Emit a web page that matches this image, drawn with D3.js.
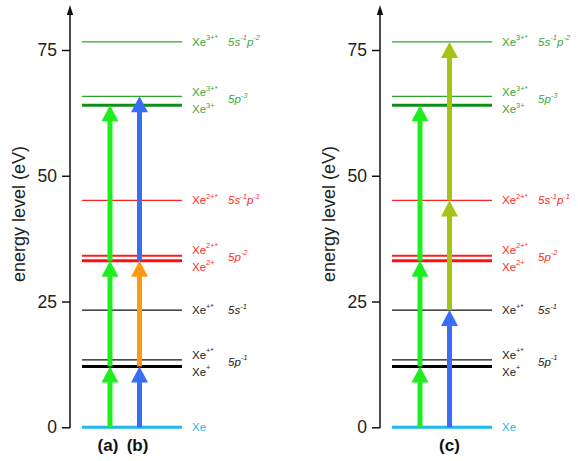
<!DOCTYPE html>
<html>
<head>
<meta charset="utf-8">
<script src="https://cdn.jsdelivr.net/npm/d3@7"></script>
<style>
  html, body { margin: 0; padding: 0; background: #fff; }
  svg { display: block; font-family: "Liberation Sans", Arial, sans-serif; }
</style>
</head>
<body>
<svg id="chart" width="578" height="461"></svg>
<script>
// Energy levels of Xe and its ions (eV)
const levelIds      = ["Xe", "Xe+", "Xe+*", "Xe+*s", "Xe2+", "Xe2+*", "Xe2+*s", "Xe3+", "Xe3+*", "Xe3+*s"];
const levelEnergies = [0, 12.1, 13.4, 23.3, 33.1, 34.1, 45.1, 64.0, 65.8, 76.6];
const levelGroups   = ["neutral", "ion1", "ion1", "ion1", "ion2", "ion2", "ion2", "ion3", "ion3", "ion3"];
const levelHeavy    = [true, true, false, false, true, false, false, true, false, false];

// Level labels: [base, superscript] and configuration [ [main, sup], ... ]
const labelName  = [["Xe", ""], ["Xe", "+"], ["Xe", "+*"], ["Xe", "+*"], ["Xe", "2+"], ["Xe", "2+*"], ["Xe", "2+*"], ["Xe", "3+"], ["Xe", "3+*"], ["Xe", "3+*"]];
const labelRole  = ["single", "lower", "upper", "single", "lower", "upper", "single", "lower", "upper", "single"];
const configText = [null, [["5p", "-1"]], null, [["5s", "-1"]], [["5p", "-2"]], null, [["5s", "-1"], ["p", "-1"]], [["5p", "-3"]], null, [["5s", "-1"], ["p", "-2"]]];

const yTicks = [0, 25, 50, 75];

// Excitation pathways: each step goes from one level to the next
const panelNames   = ["left", "right"];
const columnNames  = [["a", "b"], ["c1", "c2"]];
const panelTags    = [["(a)", "(b)"], ["(c)"]];
const stepPanel    = [0, 0, 0, 0, 0, 0, 1, 1, 1, 1, 1, 1];
const stepColumn   = ["a", "a", "a", "b", "b", "b", "c1", "c1", "c1", "c2", "c2", "c2"];
const stepFrom     = [0, 12.1, 33.1, 0, 12.1, 33.1, 0, 12.1, 33.1, 0, 23.3, 45.1];
const stepTo       = [12.1, 33.1, 64.0, 12.1, 33.1, 65.8, 12.1, 33.1, 64.0, 23.3, 45.1, 76.6];
const stepPhoton   = ["green", "green", "green", "blue", "orange", "blue", "green", "green", "green", "blue", "olive", "olive"];

const groupColor = { neutral: "#1fb6f4", ion1: "#111111", ion2: "#ff1f1f", ion3: "#2fa52f" };
const labelColor = { neutral: "#23b4f2", ion1: "#222222", ion2: "#ff2a2a", ion3: "#3aa83a" };
const heavyColor = { neutral: "#1fb6f4", ion1: "#000000", ion2: "#ff1010", ion3: "#0f8f1a" };
const photonColor = { green: "#1eee1e", blue: "#3a6df6", orange: "#ff9914", olive: "#a6c214" };

const svg = d3.select("#chart");
const y = d3.scaleLinear().domain([0, 75]).range([427.3, 50]);

const panelAxisX = [70, 380];

panelNames.forEach((pname, pi) => {
  const ax = panelAxisX[pi];
  const g = svg.append("g").attr("class", "panel-" + pname);

  const lineX = d3.scaleLinear().domain([0, 1]).range([ax + 12, ax + 112]);
  const col = d3.scalePoint().domain(columnNames[pi]).range([ax + 40, ax + 69.5]);

  // axis with arrow on top
  const axis = d3.axisLeft(y).tickValues(yTicks).tickSize(8).tickPadding(5).tickFormat(d3.format("d"));
  const axG = g.append("g").attr("transform", `translate(${ax},0)`).call(axis);
  axG.select(".domain").remove();
  axG.selectAll(".tick line").attr("stroke", "#111").attr("stroke-width", 1.5);
  axG.selectAll(".tick text").attr("font-size", 17.5).attr("fill", "#222")
    .attr("font-family", "'Liberation Sans', Arial, sans-serif");
  g.append("line").attr("x1", ax).attr("x2", ax).attr("y1", y(0) + 0.8).attr("y2", 12)
    .attr("stroke", "#111").attr("stroke-width", 1.5);
  g.append("path").attr("d", `M${ax},5 L${ax - 3.2},15 L${ax + 3.2},15 Z`).attr("fill", "#111");

  g.append("text")
    .attr("transform", `translate(${ax - 51.5},${214}) rotate(-90)`)
    .attr("text-anchor", "middle").attr("dominant-baseline", "central")
    .attr("font-size", 18).attr("fill", "#222")
    .text("energy level (eV)");

  // level lines
  levelIds.forEach((id, i) => {
    const grp = levelGroups[i];
    let w = levelHeavy[i] ? 3 : 1.3;
    let c = levelHeavy[i] ? heavyColor[grp] : groupColor[grp];
    if (grp === "ion2" && !levelHeavy[i] && labelRole[i] === "upper") w = 2;
    if (grp === "neutral") w = 3;
    g.append("line")
      .attr("x1", lineX(0)).attr("x2", lineX(1))
      .attr("y1", y(levelEnergies[i])).attr("y2", y(levelEnergies[i]))
      .attr("stroke", c).attr("stroke-width", w);
  });

  // level labels
  const nameX = ax + 122, cfgX = ax + 158;
  levelIds.forEach((id, i) => {
    const grp = levelGroups[i];
    const role = labelRole[i];
    let ty = y(levelEnergies[i]);
    if (role === "upper" || role === "lower") {
      const partner = role === "upper" ? i - 1 : i + 1;
      const mid = (y(levelEnergies[i]) + y(levelEnergies[partner])) / 2;
      ty = mid + (role === "upper" ? -8.5 : 8.5);
    }
    const t = g.append("text").attr("x", nameX).attr("y", ty)
      .attr("dominant-baseline", "central")
      .attr("font-size", 11.5).attr("fill", grp === "neutral" ? labelColor.neutral : labelColor[grp]);
    t.append("tspan").text(labelName[i][0]);
    if (labelName[i][1]) t.append("tspan").attr("font-size", 7.5).attr("dy", -4.5).text(labelName[i][1]);

    if (configText[i]) {
      let cy = ty;
      if (role === "lower") {
        cy = (y(levelEnergies[i]) + y(levelEnergies[i + 1])) / 2 - 1.5;
      }
      const ct = g.append("text").attr("x", cfgX).attr("y", cy)
        .attr("dominant-baseline", "central")
        .attr("font-size", 11.5).attr("font-style", "italic").attr("fill", labelColor[grp]);
      configText[i].forEach(([m, s]) => {
        ct.append("tspan").attr("dy", 0).text(m);
        ct.append("tspan").attr("font-size", 7.5).attr("dy", -4.5).text(s);
        ct.append("tspan").attr("font-size", 1).attr("dy", 4.5).text("\u200a");
      });
    }
  });

  // photon arrows
  const headH = 16, headW = 17, shaftW = 5;
  stepColumn.forEach((c, k) => {
    if (stepPanel[k] !== pi) return;
    const x = col(c);
    const y0 = y(stepFrom[k]), y1 = y(stepTo[k]);
    const color = photonColor[stepPhoton[k]];
    g.append("rect").attr("x", x - shaftW / 2).attr("y", y1 + headH - 1)
      .attr("width", shaftW).attr("height", y0 - (y1 + headH - 1))
      .attr("fill", color);
    g.append("path")
      .attr("d", `M${x},${y1} L${x - headW / 2},${y1 + headH} L${x + headW / 2},${y1 + headH} Z`)
      .attr("fill", color);
  });

  // panel tags
  const tags = panelTags[pi];
  const tagX = tags.length === 2 ? columnNames[pi].map(col) : [col(columnNames[pi][1])];
  tags.forEach((tg, j) => {
    g.append("text").attr("x", tagX[j] - (tags.length === 2 ? 2 : 0)).attr("y", 451)
      .attr("text-anchor", "middle").attr("font-size", 17).attr("font-weight", "bold")
      .attr("fill", "#111").text(tg);
  });
});
</script>
</body>
</html>
